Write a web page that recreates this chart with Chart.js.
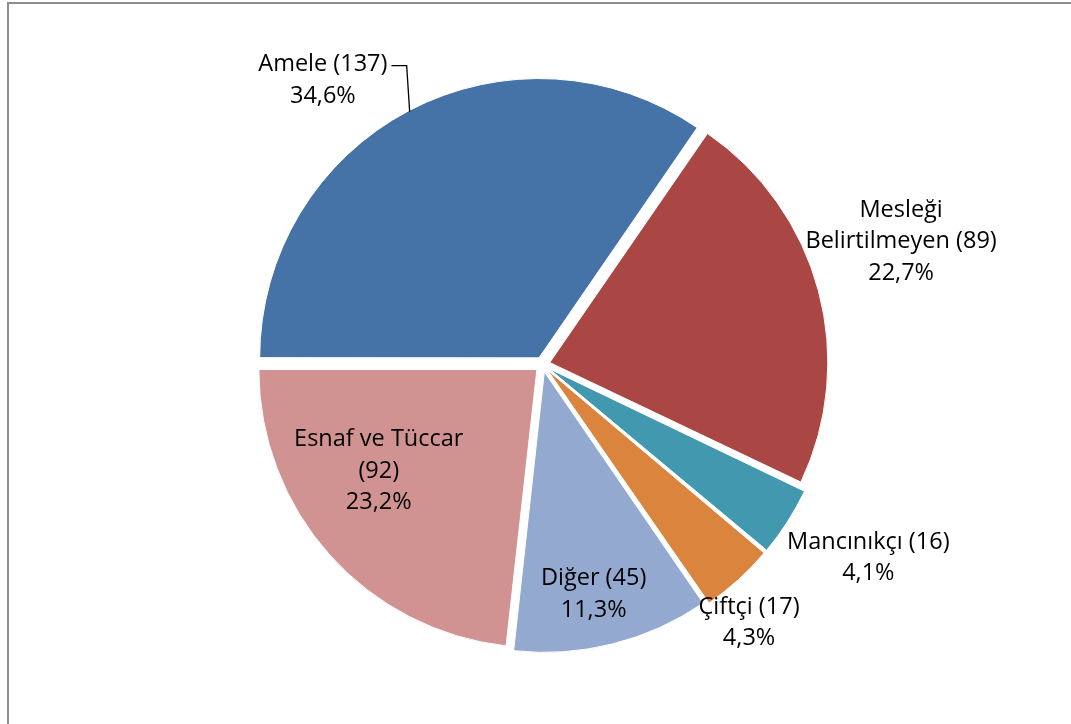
<!DOCTYPE html>
<html>
<head>
<meta charset="utf-8">
<script src="https://cdn.jsdelivr.net/npm/chart.js@4.4.0/dist/chart.umd.min.js"></script>
<style>
  html, body { margin: 0; padding: 0; background: #fff; }
  #wrap { position: relative; width: 1071px; height: 724px; overflow: hidden; }
  #frame { position: absolute; left: 7px; top: 2px; width: 1200px; height: 900px; border: 2px solid #8e8e8e; box-sizing: border-box; }
  canvas { position: absolute; left: 0; top: 0; }
</style>
</head>
<body>
<div id="wrap">
  <div id="frame"></div>
  <canvas id="pie" width="1071" height="724"></canvas>
</div>
<script>
// ── Data ── //
const categories = ['Amele', 'Mesleği Belirtilmeyen', 'Mancınıkçı', 'Çiftçi', 'Diğer', 'Esnaf ve Tüccar'];
const counts = [137, 89, 16, 17, 45, 92];
const percentLabels = ['34,6%', '22,7%', '4,1%', '4,3%', '11,3%', '23,2%'];
const labelLines = [
  ['Amele (137)', '34,6%'],
  ['Mesleği', 'Belirtilmeyen (89)', '22,7%'],
  ['Mancınıkçı (16)', '4,1%'],
  ['Çiftçi (17)', '4,3%'],
  ['Diğer (45)', '11,3%'],
  ['Esnaf ve Tüccar', '(92)', '23,2%'],
];
const sliceColors = ['#4572A7', '#AA4643', '#4198AF', '#DB843D', '#93A9CF', '#D19392'];

// label block centres, in units of the pie radius from its centre
const labelPos = [
  [-0.790, -1.022],
  [1.290, -0.442],
  [1.172, 0.695],
  [0.743, 0.929],
  [0.184, 0.826],
  [-0.589, 0.383],
];

const FONT = '23.5px "Open Sans", "Noto Sans", sans-serif';
const LINE_H = 31.5;
const EXPLODE = 30; // Chart.js v4 moves an arc by offset / 4

// ── Label plugin ── //
const sliceLabels = {
  id: 'sliceLabels',
  afterDatasetsDraw(chart) {
    const { ctx } = chart;
    const arcs = chart.getDatasetMeta(0).data;
    if (!arcs.length) return;
    const cx = arcs[0].x, cy = arcs[0].y, r = arcs[0].outerRadius;
    ctx.save();
    ctx.font = FONT;
    ctx.fillStyle = '#000';
    ctx.textAlign = 'center';
    ctx.textBaseline = 'middle';
    labelLines.forEach((lines, i) => {
      const bx = cx + labelPos[i][0] * r;
      const by = cy + labelPos[i][1] * r;
      const top = by - (lines.length - 1) * LINE_H / 2;
      lines.forEach((t, j) => ctx.fillText(t, bx, top + j * LINE_H));

      // leader line for Amele
      if (i === 0) {
        const a = arcs[i];
        const mid = (a.startAngle + a.endAngle) / 2;
        const shift = EXPLODE / 4;
        const px = cx + Math.cos(mid) * (r + shift);
        const py = cy + Math.sin(mid) * (r + shift);
        const w = ctx.measureText(lines[0]).width;
        const tx = bx + w / 2 + 4;
        ctx.strokeStyle = '#000';
        ctx.lineWidth = 1.3;
        ctx.beginPath();
        ctx.moveTo(tx, top + 1);
        ctx.lineTo(px - 3, top + 1);
        ctx.lineTo(px, py);
        ctx.stroke();
      }
    });
    ctx.restore();
  }
};

new Chart(document.getElementById('pie'), {
  type: 'pie',
  data: {
    labels: categories,
    datasets: [{
      data: counts,
      backgroundColor: sliceColors,
      borderColor: '#fff',
      borderWidth: 1,
      offset: EXPLODE,
    }],
  },
  options: {
    responsive: false,
    animation: false,
    rotation: -90,
    radius: 278,
    layout: { padding: { left: 14, right: 0, top: 5, bottom: 0 } },
    plugins: {
      legend: { display: false },
      tooltip: { enabled: false },
    },
  },
  plugins: [sliceLabels],
});
</script>
</body>
</html>
